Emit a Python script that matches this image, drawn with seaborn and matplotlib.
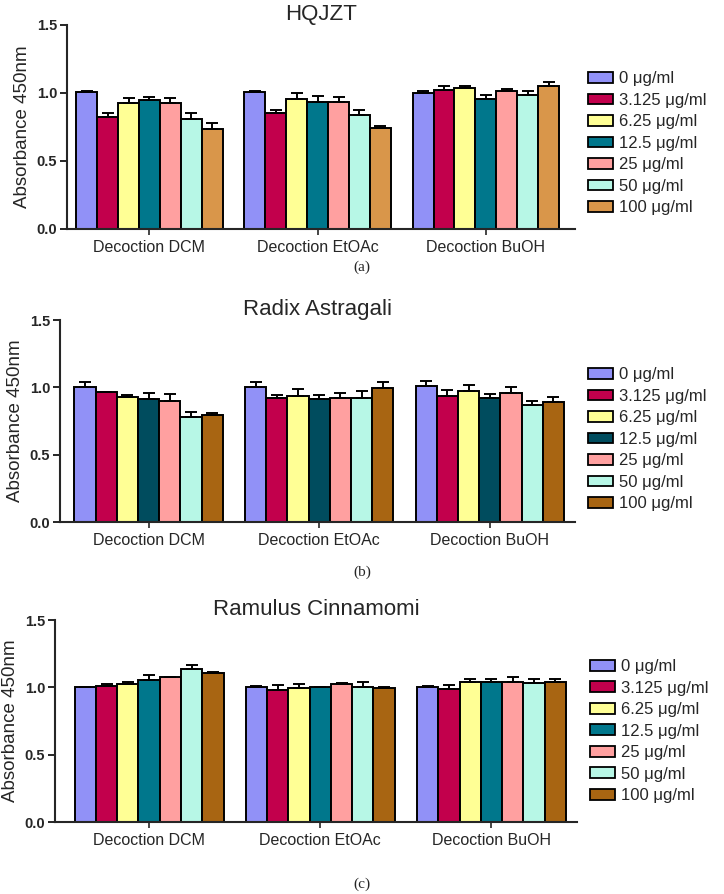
import numpy as np
import pandas as pd
import seaborn as sns
import matplotlib.pyplot as plt

# data (mean absorbance and upper error bar)
extracts = ["Decoction DCM", "Decoction EtOAc", "Decoction BuOH"]
concs = ["0 μg/ml", "3.125 μg/ml", "6.25 μg/ml", "12.5 μg/ml", "25 μg/ml", "50 μg/ml", "100 μg/ml"]
titles = ["HQJZT", "Radix Astragali", "Ramulus Cinnamomi"]
panel_tags = ["(a)", "(b)", "(c)"]

hqjzt_mean = [[1.007, 0.820, 0.927, 0.946, 0.927, 0.812, 0.732],
              [1.007, 0.854, 0.954, 0.934, 0.934, 0.837, 0.746],
              [1.002, 1.024, 1.039, 0.956, 1.017, 0.983, 1.049]]
hqjzt_sem = [[0.005, 0.033, 0.039, 0.024, 0.039, 0.042, 0.044],
             [0.005, 0.024, 0.046, 0.042, 0.036, 0.041, 0.014],
             [0.013, 0.030, 0.015, 0.032, 0.013, 0.029, 0.031]]

radix_mean = [[1.005, 0.963, 0.930, 0.911, 0.900, 0.777, 0.797],
              [1.005, 0.918, 0.938, 0.911, 0.918, 0.918, 0.993],
              [1.010, 0.938, 0.975, 0.918, 0.955, 0.868, 0.893]]
radix_sem = [[0.037, 0.005, 0.013, 0.044, 0.050, 0.037, 0.009],
             [0.037, 0.025, 0.050, 0.032, 0.037, 0.057, 0.049],
             [0.035, 0.045, 0.042, 0.032, 0.050, 0.030, 0.035]]

ramulus_mean = [[1.000, 1.012, 1.027, 1.052, 1.074, 1.133, 1.104],
                [1.000, 0.980, 0.993, 1.000, 1.022, 1.005, 0.995],
                [1.000, 0.985, 1.042, 1.040, 1.042, 1.030, 1.037]]
ramulus_sem = [[0.005, 0.015, 0.015, 0.037, 0.005, 0.030, 0.007],
               [0.010, 0.037, 0.032, 0.005, 0.013, 0.037, 0.010],
               [0.012, 0.030, 0.017, 0.024, 0.035, 0.029, 0.027]]

means = [hqjzt_mean, radix_mean, ramulus_mean]
sems = [hqjzt_sem, radix_sem, ramulus_sem]

pal_a = ["#9191f7", "#c2004c", "#ffff95", "#00778c", "#ffa0a0", "#b7f7e6", "#d9964a"]
pal_b = ["#9191f7", "#c2004c", "#ffff95", "#004c5e", "#ffa0a0", "#b7f7e6", "#a86512"]
pal_c = ["#9191f7", "#c2004c", "#ffff95", "#00778c", "#ffa0a0", "#b7f7e6", "#a86512"]
palettes = [pal_a, pal_b, pal_c]

sns.set_style("ticks")
plt.rcParams['font.family'] = ['Liberation Sans', 'DejaVu Sans']

fig = plt.figure(figsize=(7.24, 8.94), dpi=100)
W, H = 724, 894
# axes boxes in pixels: left, top, right, bottom
boxes = [(67, 25, 575, 229), (60, 320, 575, 522), (55, 620, 577, 822)]
xlims = [(-0.49, 2.53), (-0.52, 2.5), (-0.55, 2.5)]
leg_y = [0.42, 0.41, 0.45]
tag_y = [267, 572, 884]

for i in range(3):
    l, t, r, b = boxes[i]
    ax = fig.add_axes([l / W, 1 - b / H, (r - l) / W, (b - t) / H])
    rows = []
    for j, ext in enumerate(extracts):
        for k, c in enumerate(concs):
            rows.append({"extract": ext, "conc": c, "abs": means[i][j][k], "sem": sems[i][j][k]})
    df = pd.DataFrame(rows)
    sns.barplot(data=df, x="extract", y="abs", hue="conc", hue_order=concs, order=extracts,
                palette=palettes[i], errorbar=None, width=0.87, edgecolor="black",
                linewidth=1.4, saturation=1, ax=ax)
    # upper-only error bars at bar centres
    bar_conts = list(ax.containers)
    for k, cont in enumerate(bar_conts):
        xs = [p.get_x() + p.get_width() / 2 for p in cont.patches]
        ys = [p.get_height() for p in cont.patches]
        up = [sems[i][j][k] for j in range(3)]
        ax.errorbar(xs, ys, yerr=[np.zeros(3), up], fmt="none", ecolor="black",
                    elinewidth=1.4, capsize=4, capthick=1.4, zorder=1)
    ax.set_ylim(0, 1.5)
    ax.set_xlim(*xlims[i])
    ax.set_yticks([0, 0.5, 1.0, 1.5])
    ax.set_yticklabels(["0.0", "0.5", "1.0", "1.5"], fontweight="bold", fontsize=10.5)
    ax.tick_params(axis="x", labelsize=11.5, length=4, width=1.2, pad=4)
    ax.tick_params(axis="y", length=5, width=1.4, pad=2)
    ax.set_xlabel("")
    ax.set_ylabel("Absorbance 450nm", fontsize=13.5, labelpad=4)
    ax.set_title(titles[i], fontsize=16, pad=0)
    for s in ["left", "bottom"]:
        ax.spines[s].set_linewidth(1.5)
    sns.despine(ax=ax)
    ax.legend(title=None, frameon=False, loc="center left",
              bbox_to_anchor=(1.025, leg_y[i]), borderaxespad=0, borderpad=0,
              fontsize=12, handlelength=1.5, handleheight=0.6,
              handletextpad=0.35, labelspacing=0.39)
    for h in ax.get_legend().legend_handles:
        h.set_edgecolor("black")
        h.set_linewidth(1.3)
    fig.text(362 / W, 1 - tag_y[i] / H, panel_tags[i], ha="center", va="center",
             fontsize=11, family=["Liberation Serif", "DejaVu Serif"])

fig.savefig("out.png", dpi=100)
